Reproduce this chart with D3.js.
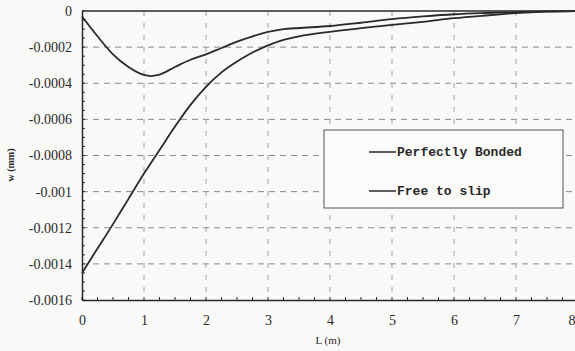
<!DOCTYPE html>
<html><head><meta charset="utf-8">
<script src="https://cdn.jsdelivr.net/npm/d3@7"></script>
<style>
html,body{margin:0;padding:0;background:#f9f9f7;}
svg{display:block;}
</style></head>
<body>
<svg id="chart" width="575" height="351"></svg>
<script>
const L = [0, 0.25, 0.5, 0.75, 1.0, 1.1, 1.25, 1.5, 1.75, 2, 2.25, 2.5, 2.75, 3, 3.25, 3.5, 4, 4.5, 5, 5.5, 6, 6.5, 7, 7.5, 8];
const perfectlyBonded = [-0.00003, -0.00014, -0.00024, -0.00031, -0.000354, -0.00036, -0.000352, -0.00031, -0.00027, -0.00024, -0.000205, -0.00017, -0.00014, -0.000116, -0.0001, -0.000094, -0.000083, -0.000065, -0.000045, -0.00003, -0.000018, -0.000011, -0.000006, -0.000002, 0];
const freeToSlip = [-0.00145, -0.001315, -0.00118, -0.00104, -0.0009, -0.000848, -0.00077, -0.00064, -0.00052, -0.00042, -0.00034, -0.00028, -0.00023, -0.00019, -0.00016, -0.00014, -0.000115, -0.000095, -0.000077, -0.00006, -0.00004, -0.000025, -0.000012, -0.000004, 0];
const xTicks = [0, 1, 2, 3, 4, 5, 6, 7, 8];
const yTicks = [0, -0.0002, -0.0004, -0.0006, -0.0008, -0.001, -0.0012, -0.0014, -0.0016];
const yTickLabels = ["0", "-0.0002", "-0.0004", "-0.0006", "-0.0008", "-0.001", "-0.0012", "-0.0014", "-0.0016"];
const seriesNames = ["Perfectly Bonded", "Free to slip"];

const svg = d3.select("#chart");
const x = d3.scaleLinear().domain([0, 8]).range([82, 578]);
const y = d3.scaleLinear().domain([-0.0016, 0]).range([300, 11]);
const ink = "#2a2a2a";

// grid
const grid = svg.append("g").attr("stroke", "#8a8a8a").attr("stroke-width", 1).attr("stroke-dasharray", "6,5");
grid.selectAll(".hg").data(yTicks.slice(1, -1)).join("line")
  .attr("x1", x(0)).attr("x2", 575).attr("y1", d => y(d)).attr("y2", d => y(d));
grid.selectAll(".vg").data(xTicks.slice(1, -1)).join("line")
  .attr("y1", y(0)).attr("y2", y(-0.0016)).attr("x1", d => x(d)).attr("x2", d => x(d))
  .attr("stroke", "#a0a0a0").attr("stroke-dasharray", "5,7");

// axes
const yAxis = d3.axisLeft(y).tickValues(yTicks).tickFormat((d, i) => yTickLabels[i]).tickSize(0).tickPadding(10);
const gy = svg.append("g").attr("transform", `translate(${x(0)},0)`).call(yAxis);
gy.select(".domain").attr("stroke", ink).attr("stroke-width", 1.5);
gy.selectAll("text").attr("font-family", "Liberation Serif, serif").attr("font-size", 14).attr("fill", ink);

const xAxis = d3.axisBottom(x).tickValues(xTicks).tickFormat(d3.format("d")).tickSize(0).tickPadding(15);
const gx = svg.append("g").attr("transform", `translate(0,${y(-0.0016)})`).call(xAxis);
gx.select(".domain").attr("stroke", ink).attr("stroke-width", 1.5);
gx.selectAll("text").attr("font-family", "Liberation Serif, serif").attr("font-size", 14).attr("fill", ink);
gx.selectAll(".tick").filter(d => d === 8).select("text").attr("text-anchor", "end").attr("dx", -3);

// top border
svg.append("line").attr("x1", x(0)).attr("x2", 575).attr("y1", y(0)).attr("y2", y(0))
  .attr("stroke", ink).attr("stroke-width", 1.5);

// minor ticks
const minorY = d3.range(0, 33).map(i => -0.00005 * i);
svg.append("g").selectAll("line").data(minorY).join("line")
  .attr("x1", x(0)).attr("x2", x(0) + 3).attr("y1", d => y(d)).attr("y2", d => y(d))
  .attr("stroke", ink).attr("stroke-width", 1);
const minorX = d3.range(0, 33).map(i => 0.25 * i);
svg.append("g").selectAll("line").data(minorX).join("line")
  .attr("y1", y(-0.0016)).attr("y2", y(-0.0016) - 3).attr("x1", d => x(d)).attr("x2", d => x(d))
  .attr("stroke", ink).attr("stroke-width", 1);

// lines
const line = d3.line().x((d, i) => x(L[i])).y(d => y(d)).curve(d3.curveMonotoneX);
[perfectlyBonded, freeToSlip].forEach(s => {
  svg.append("path").datum(s).attr("d", line).attr("fill", "none")
    .attr("stroke", ink).attr("stroke-width", 1.8);
});

// legend
const lg = svg.append("g");
lg.append("rect").attr("x", 324).attr("y", 130).attr("width", 239).attr("height", 78)
  .attr("fill", "#fbfbfa").attr("stroke", "#555").attr("stroke-width", 1);
seriesNames.forEach((n, i) => {
  const yy = 152 + i * 39;
  lg.append("line").attr("x1", 369).attr("x2", 396).attr("y1", yy).attr("y2", yy)
    .attr("stroke", ink).attr("stroke-width", 1.5);
  lg.append("text").attr("x", 397).attr("y", yy + 4).text(n)
    .attr("font-family", "Liberation Mono, monospace").attr("font-size", 13)
    .attr("font-weight", "bold").attr("fill", ink);
});

// axis titles
svg.append("text").attr("x", 328).attr("y", 344).attr("text-anchor", "middle")
  .attr("font-family", "Liberation Serif, serif").attr("font-size", 11).attr("fill", ink)
  .text("L (m)");
svg.append("text").attr("transform", "translate(14,165) rotate(-90)").attr("text-anchor", "middle")
  .attr("font-family", "Liberation Serif, serif").attr("font-size", 10).attr("font-weight", "bold").attr("fill", ink)
  .text("w (mm)");
</script>
</body></html>
